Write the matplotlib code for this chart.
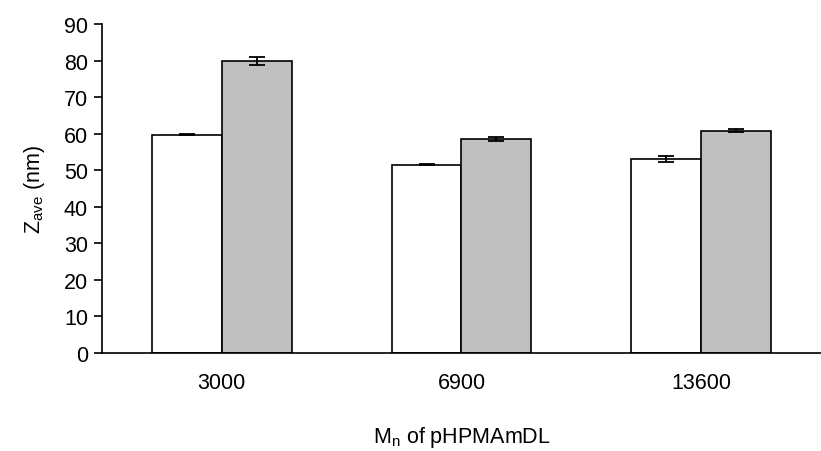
import numpy as np
import matplotlib
matplotlib.use('Agg')
import matplotlib.pyplot as plt

# data
categories = ['3000', '6900', '13600']
white_vals = [59.7, 51.5, 53.1]
white_err = [0.2, 0.2, 0.8]
gray_vals = [79.9, 58.5, 60.8]
gray_err = [1.1, 0.5, 0.4]

plt.rcParams['font.family'] = ['Liberation Sans', 'DejaVu Sans']


def main():
    fig = plt.figure(figsize=(8.21, 4.52), dpi=100)
    ax = fig.add_axes([0.1242, 0.2168, 0.8758, 0.7279])

    ind = np.arange(len(categories))
    width = 0.2917
    ekw = dict(elinewidth=1.3, capthick=1.3, ecolor='black')

    ax.bar(ind - width / 2, white_vals, width, color='white', edgecolor='black',
           linewidth=1.2, yerr=white_err, capsize=5.5, error_kw=ekw, zorder=2)
    ax.bar(ind + width / 2, gray_vals, width, color='#c0c0c0', edgecolor='black',
           linewidth=1.2, yerr=gray_err, capsize=5.5, error_kw=ekw, zorder=2)

    ax.set_xlim(-0.5, 2.5)
    ax.set_ylim(0, 90)
    ax.set_yticks(np.arange(0, 91, 10))
    ax.set_xticks(ind)
    ax.set_xticklabels(categories)

    for side in ('top', 'right'):
        ax.spines[side].set_visible(False)
    ax.spines['left'].set_linewidth(1.2)
    ax.spines['bottom'].set_linewidth(1.2)

    ax.tick_params(axis='y', direction='out', length=6, width=1.2,
                   labelsize=15.5, pad=4)
    ax.tick_params(axis='x', length=0, labelsize=15.5, pad=14)

    ax.set_ylabel('Z$_{\\mathregular{ave}}$ (nm)', fontsize=15.5, labelpad=12)
    ax.set_xlabel('M$_{\\mathregular{n}}$ of pHPMAmDL', fontsize=15.5, labelpad=22)

    fig.savefig('out.png', dpi=100)


if __name__ == '__main__':
    main()
